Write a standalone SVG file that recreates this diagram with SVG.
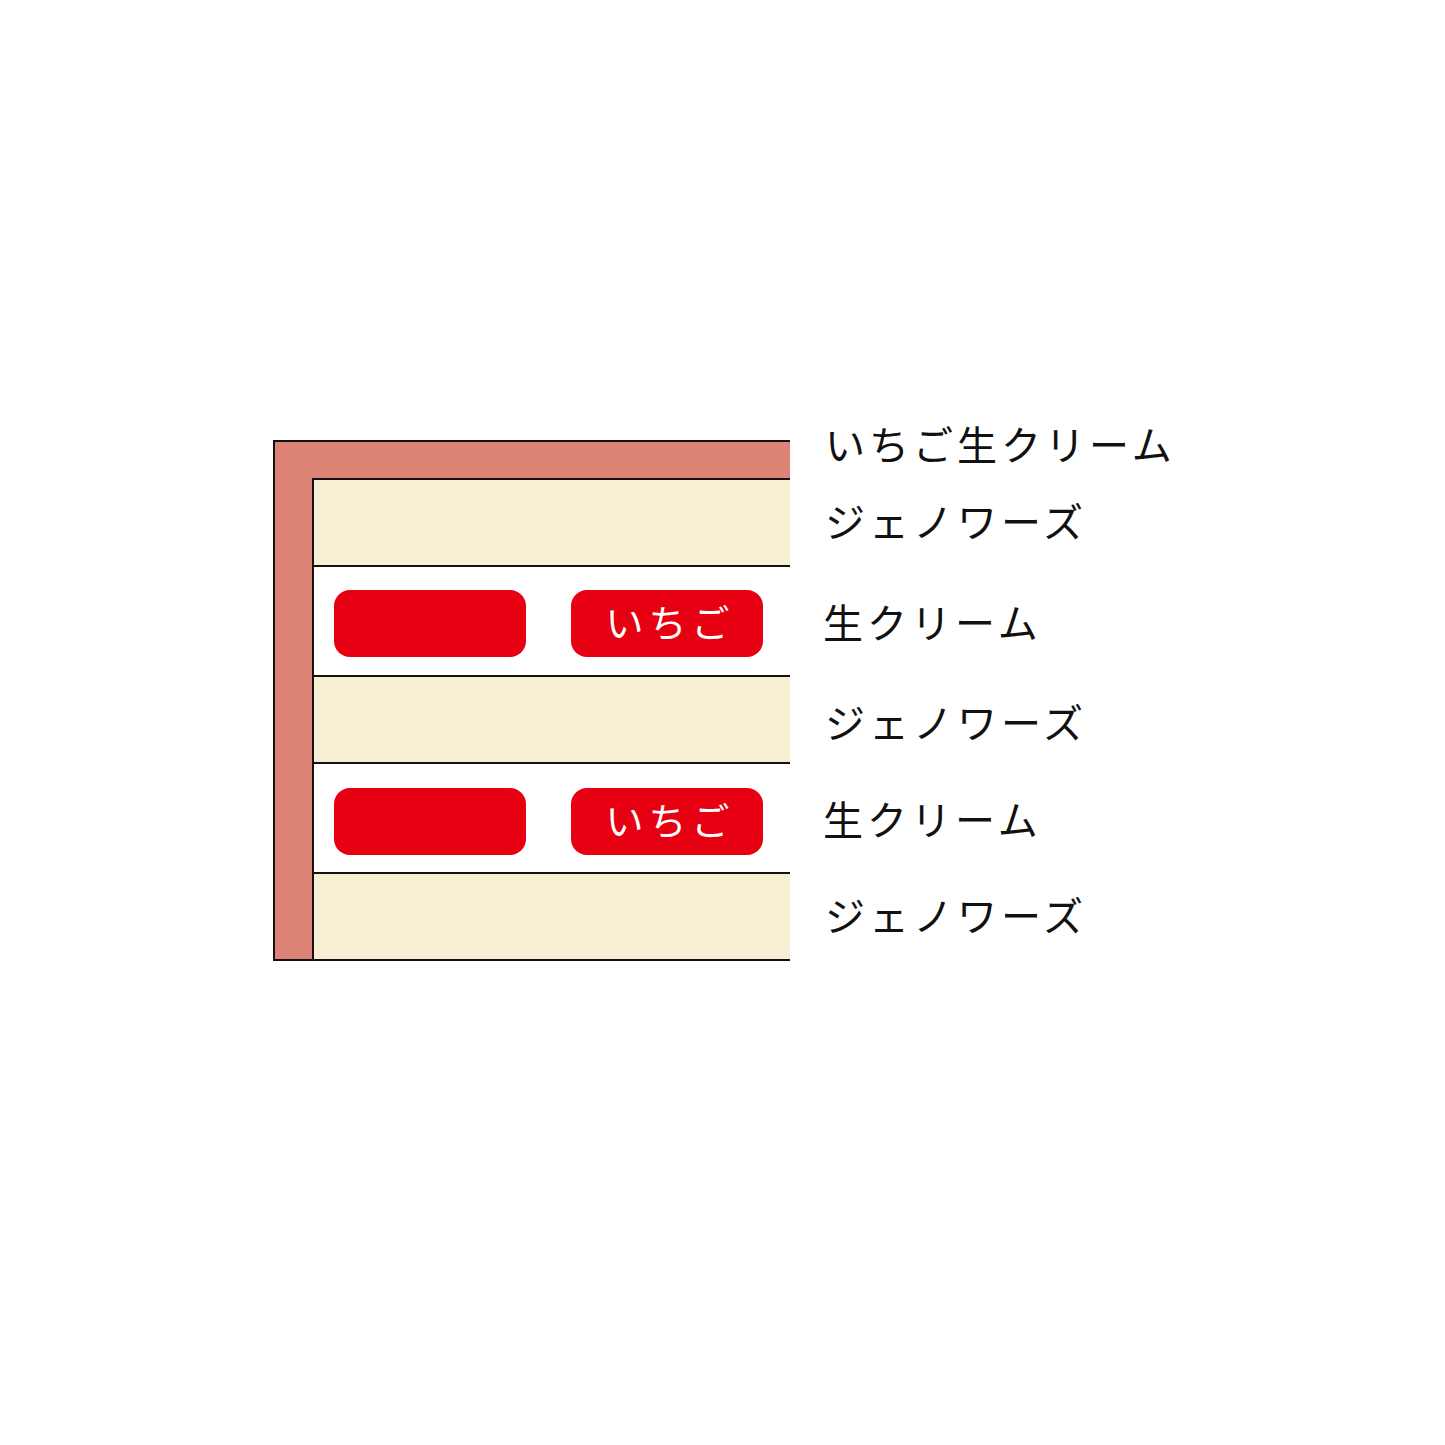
<svg xmlns="http://www.w3.org/2000/svg" width="1445" height="1445" viewBox="0 0 1445 1445">
<style>
.frame{fill:#dc8376;stroke:#111;stroke-width:2}
.sponge{fill:#f6efd3;stroke:#111;stroke-width:2}
.cream{fill:#ffffff;stroke:#111;stroke-width:2}
.berry{fill:#e60012}
.lbl{font-family:"Noto Sans CJK JP","Noto Sans",sans-serif;font-size:40px;fill:#111;letter-spacing:4px}
.btxt{font-family:"Noto Sans CJK JP","Noto Sans",sans-serif;font-size:38px;fill:#fff;letter-spacing:5px;text-anchor:middle}
</style>
<rect width="1445" height="1445" fill="#fff"/>
<g id="cake">
<rect class="frame" x="274" y="441" width="517" height="519"/>
<rect class="sponge" x="313" y="479" width="478" height="87"/>
<rect class="cream" x="313" y="566" width="478" height="110"/>
<rect class="sponge" x="313" y="676" width="478" height="87"/>
<rect class="cream" x="313" y="763" width="478" height="110"/>
<rect class="sponge" x="313" y="873" width="478" height="87"/>
<rect x="790" y="440" width="10" height="522" fill="#fff"/>
</g>
<g id="berries1">
<rect class="berry" x="334" y="590" width="192" height="67" rx="16"/>
<rect class="berry" x="571" y="590" width="192" height="67" rx="16"/>
<text class="btxt" x="670" y="637">いちご</text>
</g>
<g id="berries2">
<rect class="berry" x="334" y="788" width="192" height="67" rx="16"/>
<rect class="berry" x="571" y="788" width="192" height="67" rx="16"/>
<text class="btxt" x="670" y="835">いちご</text>
</g>
<g id="labels">
<text class="lbl" x="825" y="460">いちご生クリーム</text>
<text class="lbl" x="825" y="537">ジェノワーズ</text>
<text class="lbl" x="823" y="638">生クリーム</text>
<text class="lbl" x="825" y="738">ジェノワーズ</text>
<text class="lbl" x="823" y="835">生クリーム</text>
<text class="lbl" x="825" y="931">ジェノワーズ</text>
</g>
</svg>
